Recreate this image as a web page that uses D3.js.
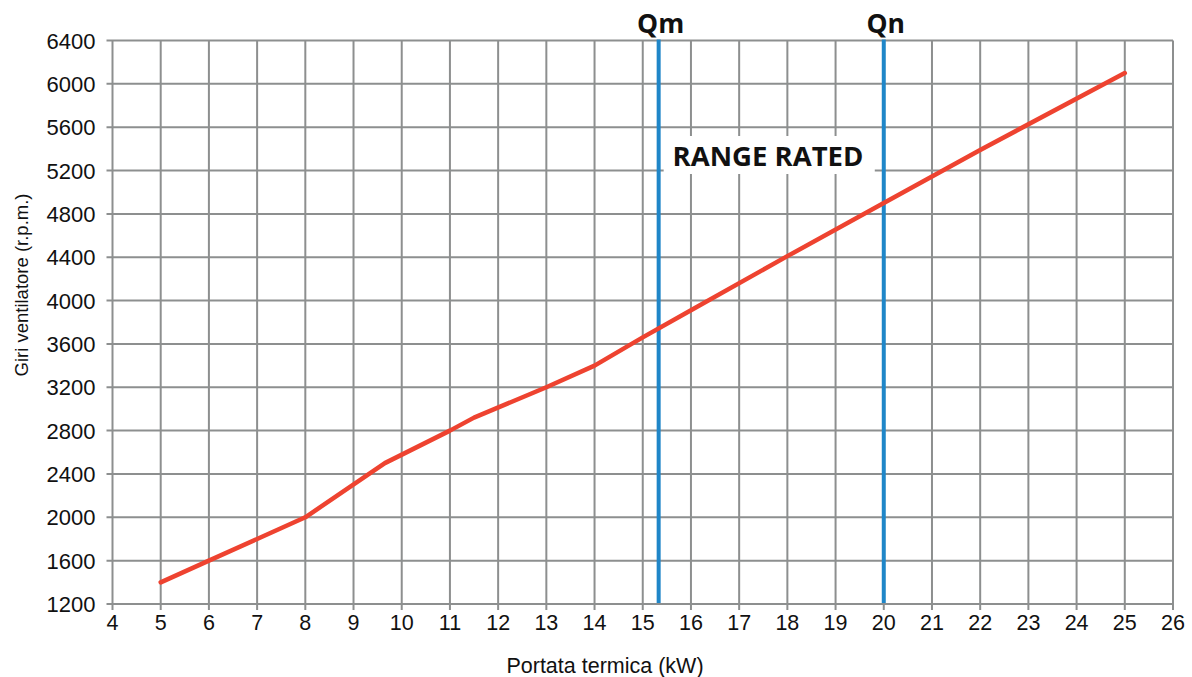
<!DOCTYPE html>
<html>
<head>
<meta charset="utf-8">
<script src="https://cdn.jsdelivr.net/npm/d3@7"></script>
<style>
body { margin: 0; background: #fff; }
svg text { font-family: "Liberation Sans", Arial, sans-serif; fill: #111; }
.lab { font-family: "Open Sans", sans-serif; font-weight: 700; }
</style>
</head>
<body>
<script>
var W = 1192, H = 677;
var margin = {left: 112.5, right: 19, top: 40.5, bottom: 73};

// curve: portata termica (kW) -> giri ventilatore (rpm)
var portata = [5, 6, 7, 8, 9.65, 11, 11.5, 13, 14, 15, 16, 18, 20, 22, 25];
var giri = [1400, 1600, 1800, 2000, 2500, 2800, 2920, 3200, 3400, 3660, 3910, 4410, 4900, 5390, 6100];

var xTicks = d3.range(4, 27, 1);
var yTicks = d3.range(1200, 6401, 400);
var markers = [{name: "Qm", x: 15.33}, {name: "Qn", x: 20}];

var svg = d3.select("body")
    .append("svg")
    .attr("width", W)
    .attr("height", H);

var x = d3.scaleLinear().domain([4, 26]).range([margin.left, W - margin.right]);
var y = d3.scaleLinear().domain([1200, 6400]).range([H - margin.bottom, margin.top]);

var grid = "#8d8f8f";

// grid lines
svg.append("g")
    .selectAll("line.v")
    .data(xTicks)
    .enter()
    .append("line")
    .attr("x1", d => x(d)).attr("x2", d => x(d))
    .attr("y1", y(6400)).attr("y2", y(1200) + 6)
    .attr("stroke", grid).attr("stroke-width", 2);

svg.append("g")
    .selectAll("line.h")
    .data(yTicks)
    .enter()
    .append("line")
    .attr("x1", x(4) - 6).attr("x2", x(26))
    .attr("y1", d => y(d)).attr("y2", d => y(d))
    .attr("stroke", grid).attr("stroke-width", 2);

// tick labels
svg.append("g")
    .selectAll("text")
    .data(yTicks)
    .enter()
    .append("text")
    .attr("x", x(4) - 17)
    .attr("y", d => y(d) + 8)
    .attr("text-anchor", "end")
    .attr("font-size", 22)
    .text(d => d);

svg.append("g")
    .selectAll("text")
    .data(xTicks)
    .enter()
    .append("text")
    .attr("x", d => x(d))
    .attr("y", y(1200) + 26)
    .attr("text-anchor", "middle")
    .attr("font-size", 21.5)
    .text(d => d);

// axis titles
svg.append("text")
    .attr("transform", "translate(28,285) rotate(-90)")
    .attr("text-anchor", "middle")
    .attr("font-size", 18.5)
    .text("Giri ventilatore (r.p.m.)");

svg.append("text")
    .attr("x", 605)
    .attr("y", 673)
    .attr("text-anchor", "middle")
    .attr("font-size", 21.5)
    .text("Portata termica (kW)");

// RANGE RATED label with white box
svg.append("rect")
    .attr("x", x(markers[0].x) + 5)
    .attr("y", 136)
    .attr("width", x(markers[1].x) - x(markers[0].x) - 14)
    .attr("height", 38)
    .attr("fill", "#fff");

svg.append("text")
    .attr("class", "lab")
    .attr("x", 768)
    .attr("y", 166)
    .attr("text-anchor", "middle")
    .attr("font-size", 27.5)
    .text("RANGE RATED");

// Qm / Qn
svg.append("g")
    .selectAll("line")
    .data(markers)
    .enter()
    .append("line")
    .attr("x1", d => x(d.x)).attr("x2", d => x(d.x))
    .attr("y1", y(6400) - 1).attr("y2", y(1200) - 1)
    .attr("stroke", "#1f86c8").attr("stroke-width", 4);

svg.append("g")
    .selectAll("text")
    .data(markers)
    .enter()
    .append("text")
    .attr("class", "lab")
    .attr("x", d => x(d.x) + 2)
    .attr("y", 33)
    .attr("text-anchor", "middle")
    .attr("font-size", 26.5)
    .text(d => d.name);

// curve
var line = d3.line()
    .x((d, i) => x(portata[i]))
    .y(d => y(d));

svg.append("path")
    .datum(giri)
    .attr("d", line)
    .attr("fill", "none")
    .attr("stroke", "#ee4330")
    .attr("stroke-width", 4.5)
    .attr("stroke-linecap", "round")
    .attr("stroke-linejoin", "round");
</script>
</body>
</html>
